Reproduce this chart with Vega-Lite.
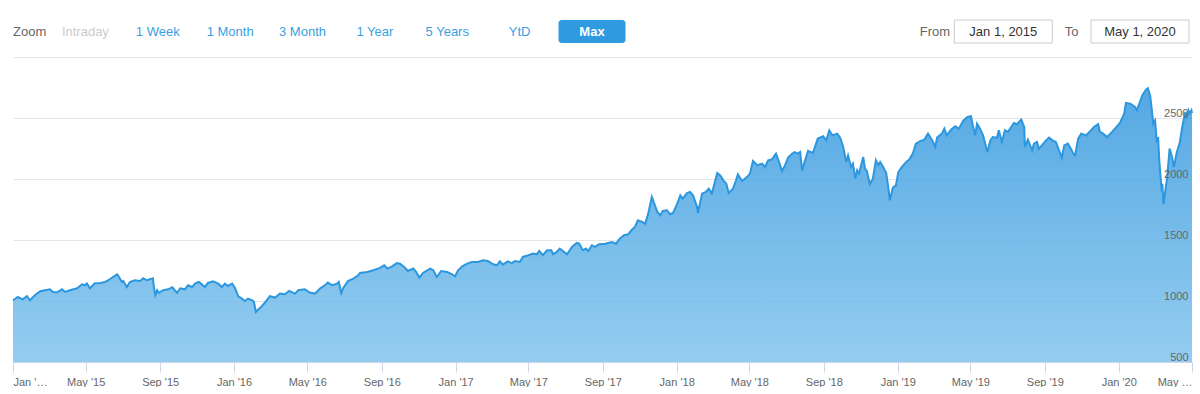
{
  "$schema": "https://vega.github.io/schema/vega-lite/v6.json",
  "padding": {"left": 9, "top": 19, "right": 0, "bottom": 0},
  "bounds": "flush",
  "spacing": 14,
  "config": {"view": {"stroke": null}, "font": "Liberation Sans"},
  "datasets": {
    "buttons": [
      {"label": "Zoom", "kind": "title"},
      {"label": "Intraday", "kind": "disabled"},
      {"label": "1 Week", "kind": "button"},
      {"label": "1 Month", "kind": "button"},
      {"label": "3 Month", "kind": "button"},
      {"label": "1 Year", "kind": "button"},
      {"label": "5 Years", "kind": "button"},
      {"label": "YtD", "kind": "button"},
      {"label": "Max", "kind": "selected"}
    ],
    "range": [
      {"label": "From", "kind": "label"},
      {"label": "Jan 1, 2015", "kind": "box"},
      {"label": "To", "kind": "label"},
      {"label": "May 1, 2020", "kind": "box"}
    ],
    "series": [
      {"date": "2015-01-01", "value": 1006}, {"date": "2015-01-09", "value": 1033}, {"date": "2015-01-17", "value": 1014},
      {"date": "2015-01-24", "value": 1039}, {"date": "2015-01-29", "value": 1006}, {"date": "2015-02-06", "value": 1047},
      {"date": "2015-02-15", "value": 1080}, {"date": "2015-02-23", "value": 1088}, {"date": "2015-03-03", "value": 1096},
      {"date": "2015-03-08", "value": 1074}, {"date": "2015-03-15", "value": 1071}, {"date": "2015-03-23", "value": 1096},
      {"date": "2015-03-28", "value": 1074}, {"date": "2015-04-05", "value": 1088}, {"date": "2015-04-17", "value": 1104},
      {"date": "2015-04-25", "value": 1137}, {"date": "2015-04-30", "value": 1129}, {"date": "2015-05-03", "value": 1145},
      {"date": "2015-05-08", "value": 1104}, {"date": "2015-05-16", "value": 1145}, {"date": "2015-05-25", "value": 1148},
      {"date": "2015-06-02", "value": 1156}, {"date": "2015-06-10", "value": 1178}, {"date": "2015-06-15", "value": 1197},
      {"date": "2015-06-22", "value": 1219}, {"date": "2015-06-25", "value": 1197}, {"date": "2015-06-30", "value": 1156},
      {"date": "2015-07-02", "value": 1164}, {"date": "2015-07-08", "value": 1115}, {"date": "2015-07-13", "value": 1156},
      {"date": "2015-07-21", "value": 1170}, {"date": "2015-07-30", "value": 1164}, {"date": "2015-08-04", "value": 1186},
      {"date": "2015-08-10", "value": 1170}, {"date": "2015-08-15", "value": 1178}, {"date": "2015-08-20", "value": 1186},
      {"date": "2015-08-22", "value": 1104}, {"date": "2015-08-24", "value": 1047}, {"date": "2015-08-27", "value": 1088},
      {"date": "2015-08-30", "value": 1066}, {"date": "2015-09-06", "value": 1088}, {"date": "2015-09-14", "value": 1096},
      {"date": "2015-09-21", "value": 1112}, {"date": "2015-09-29", "value": 1066}, {"date": "2015-10-04", "value": 1104},
      {"date": "2015-10-12", "value": 1096}, {"date": "2015-10-17", "value": 1129}, {"date": "2015-10-24", "value": 1115},
      {"date": "2015-10-29", "value": 1145}, {"date": "2015-11-04", "value": 1156}, {"date": "2015-11-14", "value": 1115},
      {"date": "2015-11-19", "value": 1148}, {"date": "2015-11-27", "value": 1162}, {"date": "2015-12-06", "value": 1142},
      {"date": "2015-12-12", "value": 1115}, {"date": "2015-12-17", "value": 1142}, {"date": "2015-12-22", "value": 1123},
      {"date": "2015-12-29", "value": 1142}, {"date": "2016-01-03", "value": 1102}, {"date": "2016-01-08", "value": 1039},
      {"date": "2016-01-14", "value": 1020}, {"date": "2016-01-19", "value": 1000}, {"date": "2016-01-24", "value": 1020},
      {"date": "2016-01-31", "value": 1006}, {"date": "2016-02-03", "value": 992}, {"date": "2016-02-06", "value": 910},
      {"date": "2016-02-10", "value": 930}, {"date": "2016-02-16", "value": 957}, {"date": "2016-02-24", "value": 1006},
      {"date": "2016-02-29", "value": 1039}, {"date": "2016-03-09", "value": 1028}, {"date": "2016-03-17", "value": 1061},
      {"date": "2016-03-25", "value": 1055}, {"date": "2016-04-01", "value": 1082}, {"date": "2016-04-11", "value": 1061},
      {"date": "2016-04-16", "value": 1088}, {"date": "2016-04-27", "value": 1096}, {"date": "2016-05-05", "value": 1069},
      {"date": "2016-05-14", "value": 1061}, {"date": "2016-05-22", "value": 1102}, {"date": "2016-05-30", "value": 1129},
      {"date": "2016-06-04", "value": 1151}, {"date": "2016-06-11", "value": 1129}, {"date": "2016-06-19", "value": 1142},
      {"date": "2016-06-22", "value": 1156}, {"date": "2016-06-26", "value": 1066}, {"date": "2016-06-29", "value": 1102},
      {"date": "2016-07-07", "value": 1164}, {"date": "2016-07-16", "value": 1184}, {"date": "2016-07-24", "value": 1211},
      {"date": "2016-07-27", "value": 1230}, {"date": "2016-08-08", "value": 1238}, {"date": "2016-08-18", "value": 1252},
      {"date": "2016-08-29", "value": 1271}, {"date": "2016-09-05", "value": 1293}, {"date": "2016-09-10", "value": 1266},
      {"date": "2016-09-18", "value": 1284}, {"date": "2016-09-26", "value": 1311}, {"date": "2016-10-01", "value": 1305},
      {"date": "2016-10-09", "value": 1274}, {"date": "2016-10-14", "value": 1246}, {"date": "2016-10-23", "value": 1266},
      {"date": "2016-10-28", "value": 1238}, {"date": "2016-11-02", "value": 1192}, {"date": "2016-11-08", "value": 1230},
      {"date": "2016-11-20", "value": 1266}, {"date": "2016-11-25", "value": 1252}, {"date": "2016-12-01", "value": 1197},
      {"date": "2016-12-08", "value": 1246}, {"date": "2016-12-18", "value": 1238}, {"date": "2016-12-26", "value": 1219},
      {"date": "2016-12-31", "value": 1203}, {"date": "2017-01-05", "value": 1252}, {"date": "2017-01-12", "value": 1284},
      {"date": "2017-01-20", "value": 1306}, {"date": "2017-01-28", "value": 1320}, {"date": "2017-02-07", "value": 1320},
      {"date": "2017-02-15", "value": 1334}, {"date": "2017-02-23", "value": 1328}, {"date": "2017-03-04", "value": 1301},
      {"date": "2017-03-10", "value": 1293}, {"date": "2017-03-15", "value": 1325}, {"date": "2017-03-20", "value": 1298},
      {"date": "2017-03-28", "value": 1325}, {"date": "2017-04-04", "value": 1311}, {"date": "2017-04-09", "value": 1328},
      {"date": "2017-04-17", "value": 1320}, {"date": "2017-04-22", "value": 1361}, {"date": "2017-05-01", "value": 1375},
      {"date": "2017-05-09", "value": 1389}, {"date": "2017-05-15", "value": 1383}, {"date": "2017-05-19", "value": 1410},
      {"date": "2017-05-25", "value": 1375}, {"date": "2017-06-01", "value": 1416}, {"date": "2017-06-08", "value": 1416},
      {"date": "2017-06-11", "value": 1383}, {"date": "2017-06-17", "value": 1402}, {"date": "2017-06-22", "value": 1430},
      {"date": "2017-06-27", "value": 1410}, {"date": "2017-07-04", "value": 1383}, {"date": "2017-07-12", "value": 1443},
      {"date": "2017-07-20", "value": 1476}, {"date": "2017-07-24", "value": 1470}, {"date": "2017-07-30", "value": 1416},
      {"date": "2017-08-04", "value": 1430}, {"date": "2017-08-08", "value": 1410}, {"date": "2017-08-14", "value": 1457},
      {"date": "2017-08-19", "value": 1443}, {"date": "2017-08-26", "value": 1465}, {"date": "2017-09-05", "value": 1470},
      {"date": "2017-09-16", "value": 1484}, {"date": "2017-09-23", "value": 1470}, {"date": "2017-09-29", "value": 1511},
      {"date": "2017-10-06", "value": 1539}, {"date": "2017-10-13", "value": 1547}, {"date": "2017-10-19", "value": 1585},
      {"date": "2017-10-24", "value": 1607}, {"date": "2017-10-29", "value": 1662}, {"date": "2017-11-05", "value": 1648},
      {"date": "2017-11-10", "value": 1634}, {"date": "2017-11-15", "value": 1716}, {"date": "2017-11-21", "value": 1853},
      {"date": "2017-11-25", "value": 1798}, {"date": "2017-11-30", "value": 1730}, {"date": "2017-12-05", "value": 1703},
      {"date": "2017-12-09", "value": 1738}, {"date": "2017-12-16", "value": 1744}, {"date": "2017-12-21", "value": 1711},
      {"date": "2017-12-26", "value": 1722}, {"date": "2018-01-02", "value": 1798}, {"date": "2018-01-07", "value": 1866},
      {"date": "2018-01-11", "value": 1839}, {"date": "2018-01-18", "value": 1885}, {"date": "2018-01-23", "value": 1894},
      {"date": "2018-01-28", "value": 1866}, {"date": "2018-02-04", "value": 1766}, {"date": "2018-02-05", "value": 1722},
      {"date": "2018-02-12", "value": 1880}, {"date": "2018-02-18", "value": 1894}, {"date": "2018-02-23", "value": 1921},
      {"date": "2018-02-28", "value": 1880}, {"date": "2018-03-09", "value": 2049}, {"date": "2018-03-14", "value": 2030},
      {"date": "2018-03-19", "value": 1989}, {"date": "2018-03-24", "value": 1962}, {"date": "2018-03-28", "value": 1885},
      {"date": "2018-04-04", "value": 1921}, {"date": "2018-04-09", "value": 1989}, {"date": "2018-04-12", "value": 2038},
      {"date": "2018-04-19", "value": 1984}, {"date": "2018-04-27", "value": 2016}, {"date": "2018-05-02", "value": 2044},
      {"date": "2018-05-07", "value": 2148}, {"date": "2018-05-14", "value": 2113}, {"date": "2018-05-22", "value": 2126},
      {"date": "2018-05-27", "value": 2099}, {"date": "2018-06-01", "value": 2153}, {"date": "2018-06-07", "value": 2159},
      {"date": "2018-06-14", "value": 2208}, {"date": "2018-06-17", "value": 2167}, {"date": "2018-06-24", "value": 2066},
      {"date": "2018-06-29", "value": 2113}, {"date": "2018-07-04", "value": 2176}, {"date": "2018-07-11", "value": 2208},
      {"date": "2018-07-15", "value": 2221}, {"date": "2018-07-20", "value": 2208}, {"date": "2018-07-24", "value": 2221},
      {"date": "2018-07-27", "value": 2071}, {"date": "2018-08-01", "value": 2153}, {"date": "2018-08-06", "value": 2230},
      {"date": "2018-08-14", "value": 2214}, {"date": "2018-08-22", "value": 2331}, {"date": "2018-08-31", "value": 2350},
      {"date": "2018-09-05", "value": 2317}, {"date": "2018-09-10", "value": 2399}, {"date": "2018-09-15", "value": 2358},
      {"date": "2018-09-23", "value": 2372}, {"date": "2018-09-28", "value": 2339}, {"date": "2018-10-03", "value": 2262},
      {"date": "2018-10-08", "value": 2139}, {"date": "2018-10-11", "value": 2194}, {"date": "2018-10-16", "value": 2099},
      {"date": "2018-10-19", "value": 2126}, {"date": "2018-10-23", "value": 2003}, {"date": "2018-10-26", "value": 2071},
      {"date": "2018-10-29", "value": 2044}, {"date": "2018-11-05", "value": 2181}, {"date": "2018-11-08", "value": 2085},
      {"date": "2018-11-11", "value": 2066}, {"date": "2018-11-16", "value": 1957}, {"date": "2018-11-21", "value": 2003},
      {"date": "2018-11-26", "value": 2153}, {"date": "2018-11-30", "value": 2113}, {"date": "2018-12-03", "value": 2139},
      {"date": "2018-12-08", "value": 2099}, {"date": "2018-12-13", "value": 2049}, {"date": "2018-12-16", "value": 1948},
      {"date": "2018-12-19", "value": 1825}, {"date": "2018-12-24", "value": 1930}, {"date": "2018-12-29", "value": 1948},
      {"date": "2019-01-02", "value": 2057}, {"date": "2019-01-08", "value": 2099}, {"date": "2019-01-15", "value": 2139},
      {"date": "2019-01-20", "value": 2159}, {"date": "2019-01-26", "value": 2208}, {"date": "2019-01-31", "value": 2290},
      {"date": "2019-02-07", "value": 2311}, {"date": "2019-02-14", "value": 2323}, {"date": "2019-02-20", "value": 2372},
      {"date": "2019-02-27", "value": 2317}, {"date": "2019-03-04", "value": 2262}, {"date": "2019-03-07", "value": 2339},
      {"date": "2019-03-15", "value": 2372}, {"date": "2019-03-19", "value": 2413}, {"date": "2019-03-23", "value": 2358},
      {"date": "2019-03-30", "value": 2405}, {"date": "2019-04-06", "value": 2432}, {"date": "2019-04-12", "value": 2413},
      {"date": "2019-04-19", "value": 2476}, {"date": "2019-04-26", "value": 2508}, {"date": "2019-05-02", "value": 2514},
      {"date": "2019-05-05", "value": 2440}, {"date": "2019-05-09", "value": 2358}, {"date": "2019-05-12", "value": 2454},
      {"date": "2019-05-17", "value": 2413}, {"date": "2019-05-22", "value": 2358}, {"date": "2019-05-29", "value": 2221},
      {"date": "2019-06-03", "value": 2317}, {"date": "2019-06-07", "value": 2344}, {"date": "2019-06-14", "value": 2339},
      {"date": "2019-06-17", "value": 2399}, {"date": "2019-06-22", "value": 2304}, {"date": "2019-06-27", "value": 2399},
      {"date": "2019-07-02", "value": 2386}, {"date": "2019-07-12", "value": 2459}, {"date": "2019-07-17", "value": 2449},
      {"date": "2019-07-24", "value": 2487}, {"date": "2019-07-29", "value": 2426}, {"date": "2019-07-30", "value": 2262},
      {"date": "2019-08-04", "value": 2323}, {"date": "2019-08-11", "value": 2235}, {"date": "2019-08-14", "value": 2290},
      {"date": "2019-08-19", "value": 2304}, {"date": "2019-08-22", "value": 2249}, {"date": "2019-08-27", "value": 2276},
      {"date": "2019-09-03", "value": 2317}, {"date": "2019-09-08", "value": 2339}, {"date": "2019-09-15", "value": 2311},
      {"date": "2019-09-19", "value": 2304}, {"date": "2019-09-24", "value": 2241}, {"date": "2019-09-29", "value": 2176},
      {"date": "2019-10-03", "value": 2276}, {"date": "2019-10-09", "value": 2290}, {"date": "2019-10-14", "value": 2249},
      {"date": "2019-10-18", "value": 2208}, {"date": "2019-10-21", "value": 2194}, {"date": "2019-10-26", "value": 2331},
      {"date": "2019-10-31", "value": 2372}, {"date": "2019-11-08", "value": 2358}, {"date": "2019-11-16", "value": 2399},
      {"date": "2019-11-21", "value": 2426}, {"date": "2019-11-28", "value": 2449}, {"date": "2019-12-01", "value": 2386},
      {"date": "2019-12-06", "value": 2372}, {"date": "2019-12-13", "value": 2344}, {"date": "2019-12-21", "value": 2386},
      {"date": "2019-12-29", "value": 2432}, {"date": "2020-01-03", "value": 2459}, {"date": "2020-01-10", "value": 2536},
      {"date": "2020-01-13", "value": 2623}, {"date": "2020-01-20", "value": 2618}, {"date": "2020-01-28", "value": 2590},
      {"date": "2020-01-31", "value": 2563}, {"date": "2020-02-04", "value": 2618}, {"date": "2020-02-09", "value": 2686},
      {"date": "2020-02-15", "value": 2733}, {"date": "2020-02-18", "value": 2744}, {"date": "2020-02-22", "value": 2680},
      {"date": "2020-02-25", "value": 2550}, {"date": "2020-02-27", "value": 2454}, {"date": "2020-03-01", "value": 2481},
      {"date": "2020-03-04", "value": 2300}, {"date": "2020-03-06", "value": 2344}, {"date": "2020-03-08", "value": 2153},
      {"date": "2020-03-10", "value": 2020}, {"date": "2020-03-12", "value": 1900}, {"date": "2020-03-13", "value": 1960},
      {"date": "2020-03-15", "value": 1793}, {"date": "2020-03-18", "value": 1907}, {"date": "2020-03-21", "value": 2016},
      {"date": "2020-03-25", "value": 2249}, {"date": "2020-03-29", "value": 2181}, {"date": "2020-04-01", "value": 2095},
      {"date": "2020-04-06", "value": 2221}, {"date": "2020-04-11", "value": 2304}, {"date": "2020-04-15", "value": 2430},
      {"date": "2020-04-20", "value": 2549}, {"date": "2020-04-22", "value": 2495}, {"date": "2020-04-25", "value": 2563},
      {"date": "2020-04-27", "value": 2538}, {"date": "2020-04-30", "value": 2563}, {"date": "2020-05-01", "value": 2540}
    ]
  },
  "vconcat": [
    {
      "width": 1179,
      "height": 23,
      "resolve": {"scale": {"x": "independent"}},
      "layer": [
        {
          "data": {"name": "buttons"},
          "encoding": {
            "x": {"field": "label", "type": "nominal", "axis": null,
              "scale": {"type": "point", "padding": 0.645, "align": 0,
                "domain": ["Zoom", "Intraday", "1 Week", "1 Month", "3 Month", "1 Year", "5 Years", "YtD", "Max", "_a", "_b", "_c", "_d", "_e", "_f", "_g"]}}
          },
          "layer": [
            {"transform": [{"filter": "datum.kind == 'selected'"}],
             "mark": {"type": "rect", "width": 67, "fill": "#2f9ae0", "cornerRadius": 3}},
            {"transform": [{"filter": "datum.kind == 'title'"}],
             "mark": {"type": "text", "align": "left", "fontSize": 13, "color": "#666666"},
             "encoding": {"text": {"field": "label"}}},
            {"transform": [{"filter": "datum.kind == 'disabled'"}],
             "mark": {"type": "text", "align": "center", "fontSize": 13, "color": "#cccccc"},
             "encoding": {"text": {"field": "label"}}},
            {"transform": [{"filter": "datum.kind == 'button'"}],
             "mark": {"type": "text", "align": "center", "fontSize": 13, "color": "#3a9fe2"},
             "encoding": {"text": {"field": "label"}}},
            {"transform": [{"filter": "datum.kind == 'selected'"}],
             "mark": {"type": "text", "align": "center", "fontSize": 13, "fontWeight": "bold", "color": "#ffffff"},
             "encoding": {"text": {"field": "label"}}}
          ]
        },
        {
          "data": {"name": "range"},
          "encoding": {
            "x": {"field": "label", "type": "nominal", "axis": null,
              "scale": {"type": "point", "padding": 0.627, "align": 0.393,
                "domain": ["_1", "_2", "_3", "_4", "_5", "_6", "_7", "_8", "_9", "_10", "_11", "_12", "_13", "From", "Jan 1, 2015", "To", "May 1, 2020"]}}
          },
          "layer": [
            {"transform": [{"filter": "datum.kind == 'box'"}],
             "mark": {"type": "rect", "width": 98, "fill": "#ffffff", "stroke": "#cccccc", "strokeWidth": 1}},
            {"transform": [{"filter": "datum.kind == 'label'"}],
             "mark": {"type": "text", "align": "center", "fontSize": 13, "color": "#666666"},
             "encoding": {"text": {"field": "label"}}},
            {"transform": [{"filter": "datum.kind == 'box'"}],
             "mark": {"type": "text", "align": "center", "fontSize": 13, "color": "#333333"},
             "encoding": {"text": {"field": "label"}}}
          ]
        }
      ]
    },
    {
      "width": 1179,
      "height": 305,
      "data": {"name": "series"},
      "resolve": {"axis": {"y": "independent"}},
      "encoding": {
        "x": {"field": "date", "type": "temporal",
          "scale": {"type": "utc", "domain": [{"year": 2015, "month": 1, "date": 1, "utc": true}, {"year": 2020, "month": 5, "date": 1, "utc": true}]},
          "axis": {
            "title": null, "grid": false, "zindex": 1,
            "domainColor": "#ccd6eb", "tickColor": "#ccd6eb", "tickSize": 10,
            "labelPadding": 4, "labelColor": "#666666", "labelFontSize": 11, "labelFlush": true, "labelOverlap": false,
            "labelExpr": "datum.index == 0 ? \"Jan '…\" : datum.index == 1 ? \"May …\" : utcFormat(datum.value, \"%b '%y\")",
            "values": [
              {"year": 2015, "month": 1, "date": 1, "utc": true}, {"year": 2015, "month": 5, "date": 1, "utc": true}, {"year": 2015, "month": 9, "date": 1, "utc": true},
              {"year": 2016, "month": 1, "date": 1, "utc": true}, {"year": 2016, "month": 5, "date": 1, "utc": true}, {"year": 2016, "month": 9, "date": 1, "utc": true},
              {"year": 2017, "month": 1, "date": 1, "utc": true}, {"year": 2017, "month": 5, "date": 1, "utc": true}, {"year": 2017, "month": 9, "date": 1, "utc": true},
              {"year": 2018, "month": 1, "date": 1, "utc": true}, {"year": 2018, "month": 5, "date": 1, "utc": true}, {"year": 2018, "month": 9, "date": 1, "utc": true},
              {"year": 2019, "month": 1, "date": 1, "utc": true}, {"year": 2019, "month": 5, "date": 1, "utc": true}, {"year": 2019, "month": 9, "date": 1, "utc": true},
              {"year": 2020, "month": 1, "date": 1, "utc": true}, {"year": 2020, "month": 5, "date": 1, "utc": true}
            ]
          }
        }
      },
      "layer": [
        {
          "mark": {"type": "area", "fillOpacity": 0.85,
            "fill": {"gradient": "linear", "x1": 0, "y1": 0, "x2": 0, "y2": 1,
              "stops": [{"offset": 0, "color": "#3799df"}, {"offset": 1, "color": "#81c4ed"}]}},
          "encoding": {
            "y": {"field": "value", "type": "quantitative",
              "scale": {"domain": [500, 3000], "nice": false, "zero": false},
              "axis": {"orient": "right", "title": null, "grid": true, "gridColor": "#e6e6e6", "labels": false, "ticks": false, "domain": false,
                "values": [500, 1000, 1500, 2000, 2500, 3000], "zindex": 0}},
            "y2": {"datum": 500}
          }
        },
        {
          "mark": {"type": "line", "stroke": "#2c97de", "strokeWidth": 2},
          "encoding": {
            "y": {"field": "value", "type": "quantitative",
              "axis": {"orient": "right", "title": null, "grid": false, "ticks": false, "tickSize": 0, "domain": false, "format": "d",
                "labelAlign": "right", "labelPadding": -4, "labelOffset": -2, "labelBaseline": "alphabetic",
                "labelColor": "#666666", "labelFontSize": 11, "values": [500, 1000, 1500, 2000, 2500], "zindex": 1}}
          }
        }
      ]
    }
  ]
}
